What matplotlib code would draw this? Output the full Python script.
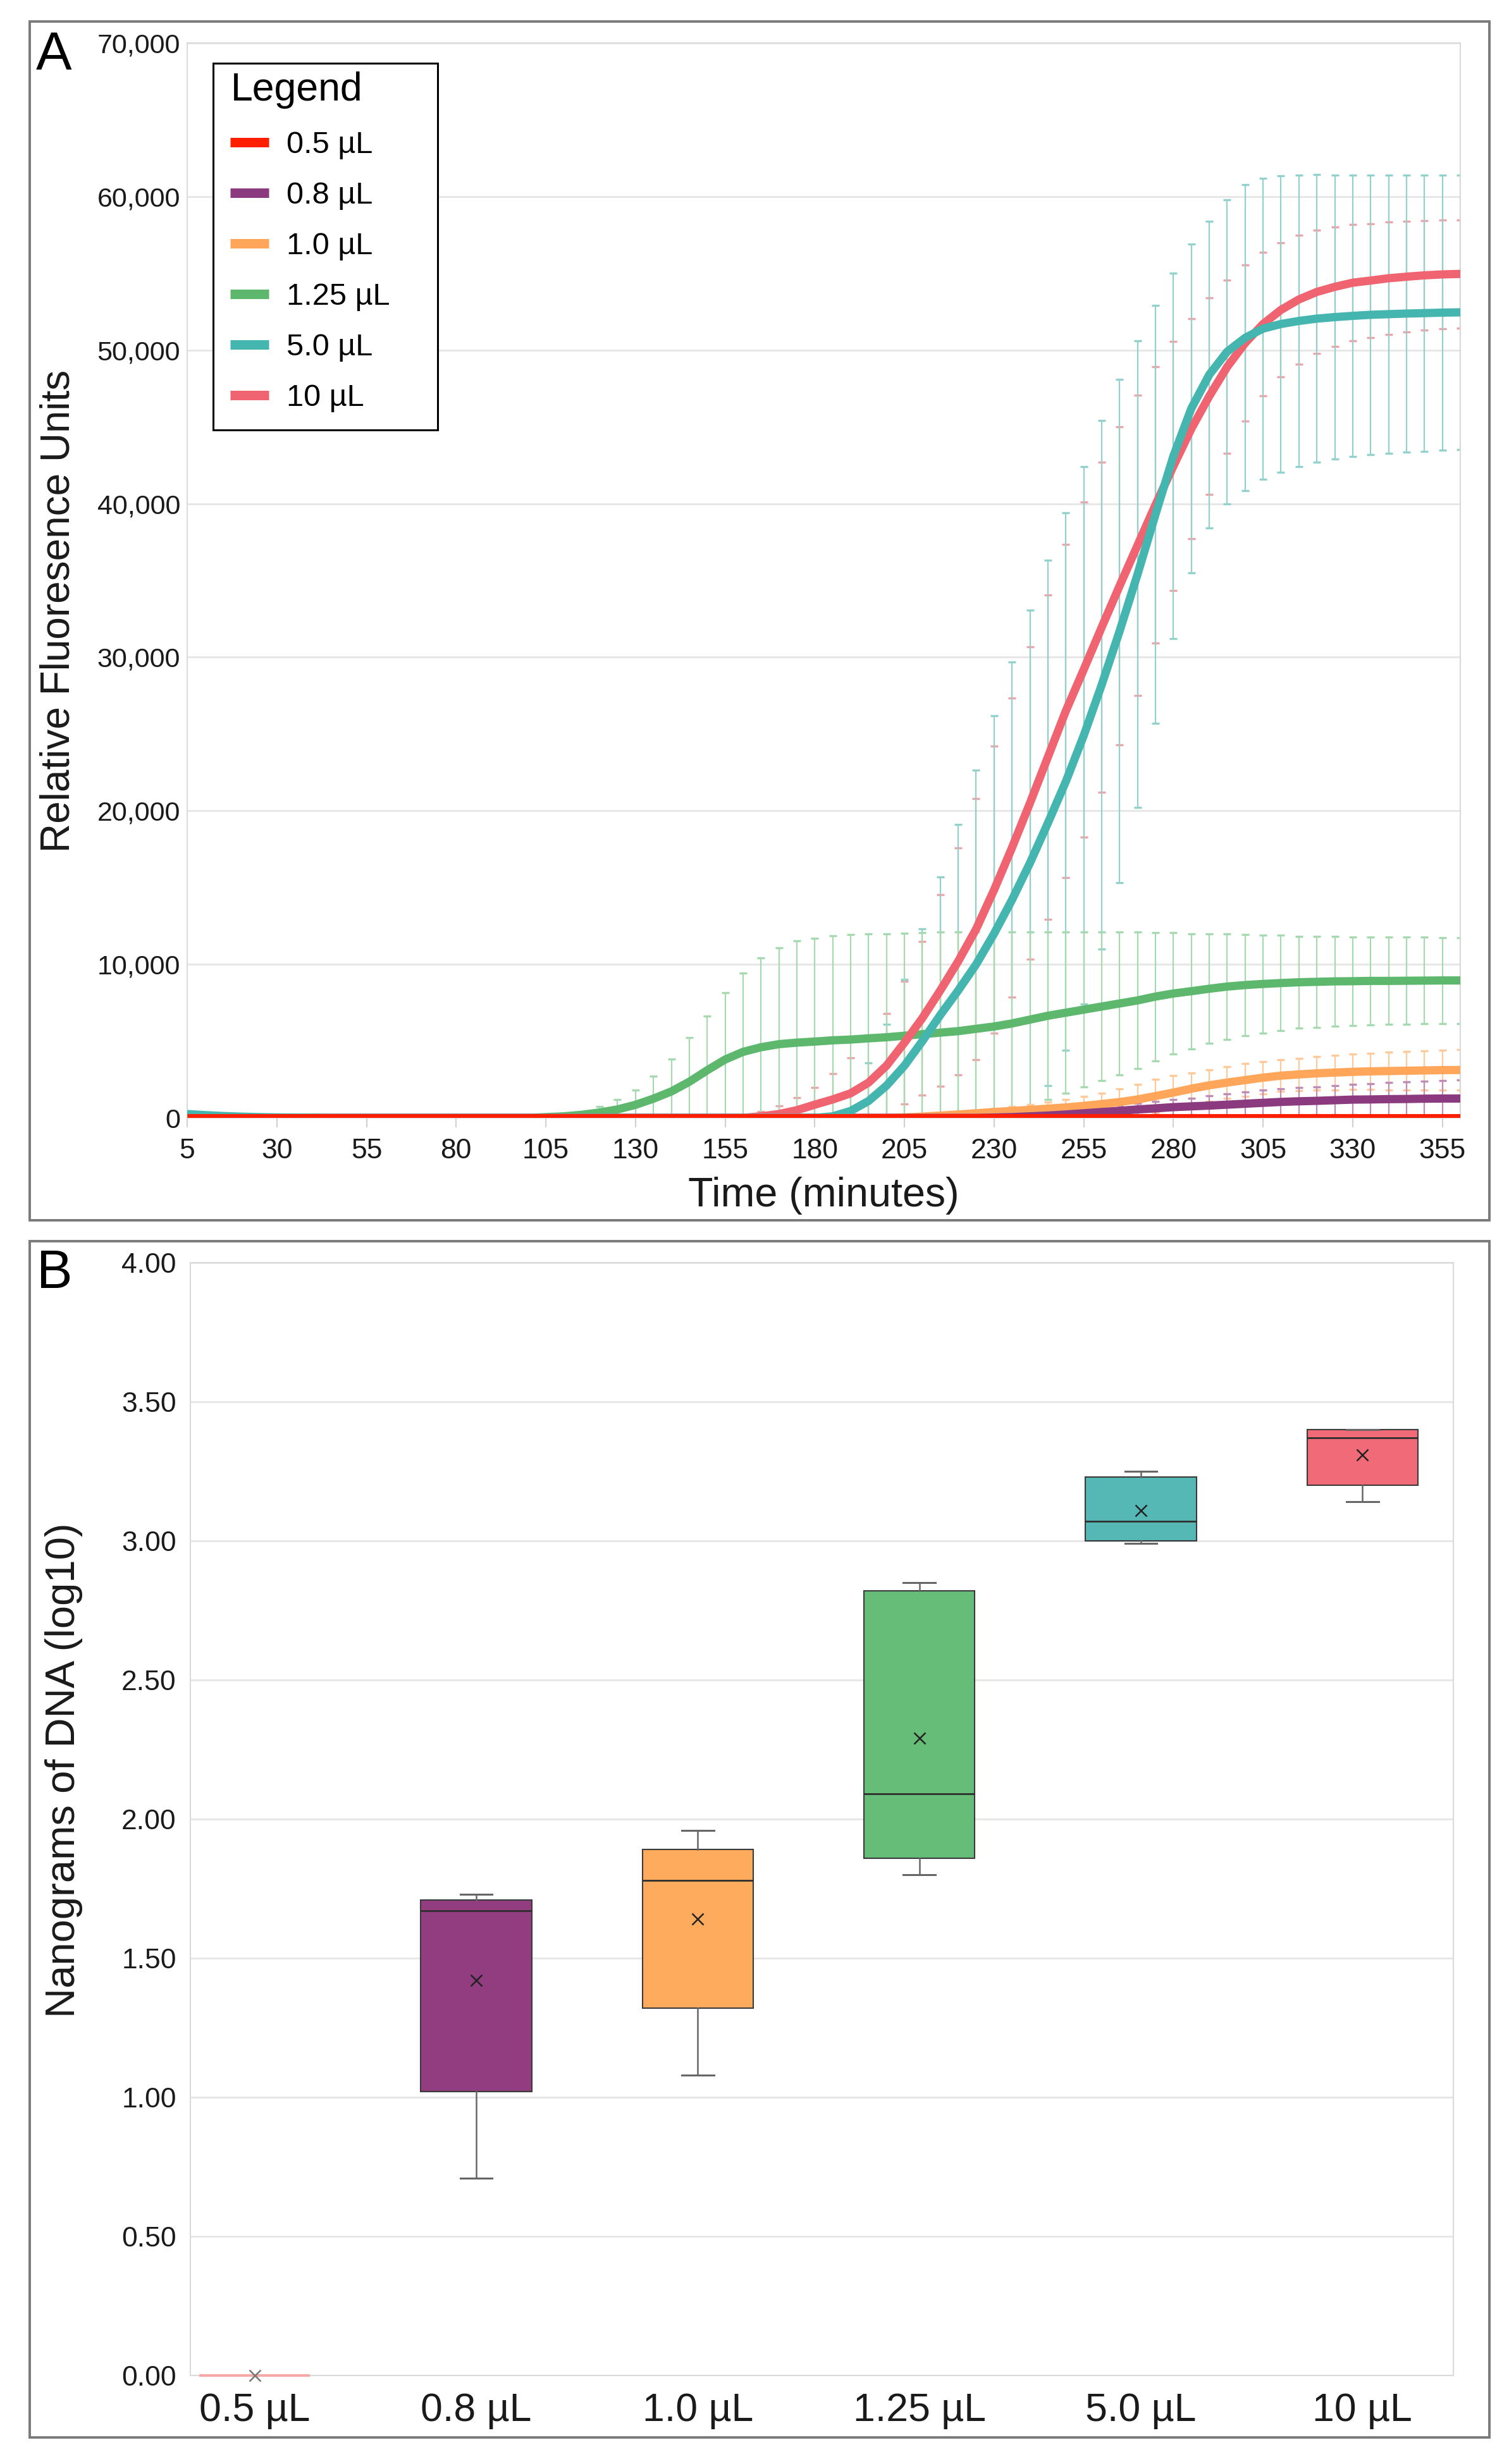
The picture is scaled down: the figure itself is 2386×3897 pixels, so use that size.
"""Fluorescence time course (A) and DNA yield box plot (B)."""
import matplotlib
matplotlib.use("Agg")
import matplotlib.pyplot as plt
from matplotlib.patches import Rectangle
import numpy as np

plt.rcParams["font.family"] = ["Liberation Sans", "DejaVu Sans"]

# ---- panel A data: mean RFU and SD, every 5 min from 5 to 360 ----
TIME = list(range(5, 361, 5))
SERIES = ["0.5 µL", "0.8 µL", "1.0 µL", "1.25 µL", "5.0 µL", "10 µL"]

MEAN_05 = [0, 0, 0, 0, 0, 0, 0, 0, 0, 0, 0, 0,
           0, 0, 0, 0, 0, 0, 0, 0, 0, 0, 0, 0,
           0, 0, 0, 0, 0, 0, 0, 0, 0, 0, 0, 0,
           0, 0, 0, 0, 0, 0, 0, 0, 0, 0, 0, 0,
           0, 0, 0, 0, 0, 0, 0, 0, 0, 0, 0, 0,
           0, 0, 0, 0, 0, 0, 0, 0, 0, 0, 0, 0]
SD_05 = MEAN_05

MEAN_08 = [0, 0, 0, 0, 0, 0, 0, 0, 0, 0, 0, 0,
           0, 0, 0, 0, 0, 0, 0, 0, 0, 0, 0, 0,
           0, 0, 0, 0, 0, 0, 0, 0, 0, 0, 0, 0,
           0, 0, 0, 0, 0, 0, 0, 0, 0, 20, 50, 100,
           150, 220, 300, 380, 460, 550, 620, 700, 750, 800, 860, 920,
           980, 1040, 1080, 1110, 1150, 1190, 1200, 1220, 1230, 1250, 1260, 1260]
SD_08 = [0, 0, 0, 0, 0, 0, 0, 0, 0, 0, 0, 0,
         0, 0, 0, 0, 0, 0, 0, 0, 0, 0, 0, 0,
         0, 0, 0, 0, 0, 0, 0, 0, 0, 0, 0, 0,
         0, 0, 0, 0, 0, 0, 0, 0, 0, 0, 0, 50,
         100, 150, 220, 300, 350, 400, 450, 490, 540, 640, 720, 780,
         820, 860, 900, 910, 940, 980, 1040, 1090, 1130, 1140, 1170, 1200]

MEAN_10 = [0, 0, 0, 0, 0, 0, 0, 0, 0, 0, 0, 0,
           0, 0, 0, 0, 0, 0, 0, 0, 0, 0, 0, 0,
           0, 0, 0, 0, 0, 0, 0, 0, 0, 0, 0, 0,
           0, 0, 0, 0, 30, 80, 150, 220, 300, 380, 450, 520,
           600, 680, 780, 900, 1030, 1200, 1420, 1650, 1900, 2120, 2300, 2460,
           2620, 2750, 2830, 2900, 2950, 3000, 3030, 3050, 3070, 3090, 3110, 3120]
SD_10 = [0, 0, 0, 0, 0, 0, 0, 0, 0, 0, 0, 0,
         0, 0, 0, 0, 0, 0, 0, 0, 0, 0, 0, 0,
         0, 0, 0, 0, 0, 0, 0, 0, 0, 0, 0, 0,
         0, 0, 0, 0, 20, 50, 90, 130, 170, 220, 280, 350,
         430, 520, 610, 720, 850, 1000, 1100, 1100, 1040, 1030, 1040, 1070,
         1050, 1030, 1050, 1100, 1120, 1140, 1180, 1240, 1250, 1270, 1290, 1310]

MEAN_125 = [0, 0, 0, 0, 0, 0, 0, 0, 0, 0, 0, 0,
            0, 0, 0, 0, 0, 0, 0, 0, 50, 100, 200, 350,
            550, 850, 1250, 1720, 2350, 3100, 3800, 4300, 4600, 4800, 4900, 4970,
            5050, 5100, 5180, 5250, 5350, 5450, 5550, 5650, 5800, 5950, 6150, 6400,
            6650, 6850, 7050, 7250, 7450, 7650, 7900, 8100, 8250, 8410, 8550, 8650,
            8720, 8780, 8830, 8860, 8890, 8900, 8920, 8920, 8930, 8940, 8950, 8950]
SD_125 = [0, 0, 0, 0, 0, 0, 0, 0, 0, 0, 0, 0,
          0, 0, 0, 0, 0, 0, 0, 0, 0, 50, 140, 390,
          630, 960, 1450, 2090, 2880, 3550, 4350, 5130, 5810, 6260, 6640, 6720,
          6800, 6830, 6790, 6750, 6680, 6600, 6540, 6440, 6290, 6140, 5940, 5690,
          5440, 5240, 5040, 4840, 4640, 4440, 4180, 3960, 3750, 3570, 3430, 3300,
          3190, 3100, 3000, 2960, 2920, 2890, 2870, 2840, 2830, 2820, 2800, 2800]

MEAN_50 = [250, 180, 120, 80, 50, 30, 20, 10, 0, 0, 0, 0,
           0, 0, 0, 0, 0, 0, 0, 0, 0, 0, 0, 0,
           0, 0, 0, 0, 0, 0, 0, 0, 0, 0, 0, 0,
           100, 450, 1100, 2100, 3400, 5000, 6700, 8300, 10000, 12000, 14200, 16600,
           19200, 21900, 24900, 28200, 31700, 35400, 39300, 43100, 46200, 48400, 49900, 50800,
           51400, 51700, 51900, 52050, 52150, 52230, 52300, 52340, 52380, 52410, 52440, 52460]
SD_50 = [0, 0, 0, 0, 0, 0, 0, 0, 0, 0, 0, 0,
         0, 0, 0, 0, 0, 0, 0, 0, 0, 0, 0, 0,
         0, 0, 0, 0, 0, 0, 0, 0, 0, 0, 0, 0,
         0, 1300, 2500, 4000, 5600, 7300, 9000, 10800, 12660, 14200, 15500, 16450,
         17100, 17500, 17500, 17200, 16400, 15200, 13600, 11900, 10700, 10000, 9900, 9960,
         9800, 9650, 9490, 9370, 9260, 9170, 9100, 9070, 9030, 9000, 8960, 8940]

MEAN_100 = [0, 0, 0, 0, 0, 0, 0, 0, 0, 0, 0, 0,
            0, 0, 0, 0, 0, 0, 0, 0, 0, 0, 0, 0,
            0, 0, 0, 0, 0, 0, 0, 0, 100, 250, 500, 860,
            1200, 1600, 2300, 3400, 4900, 6500, 8300, 10200, 12300, 14850, 17600, 20500,
            23500, 26500, 29200, 31950, 34650, 37290, 39920, 42450, 44880, 47000, 48910, 50460,
            51700, 52620, 53300, 53790, 54120, 54390, 54530, 54680, 54780, 54870, 54930, 54960]
SD_100 = [0, 0, 0, 0, 0, 0, 0, 0, 0, 0, 0, 0,
          0, 0, 0, 0, 0, 0, 0, 0, 0, 0, 0, 0,
          0, 0, 0, 0, 0, 0, 0, 0, 300, 550, 800, 1100,
          1700, 2300, 2800, 3400, 4000, 5000, 6250, 7400, 8500, 9350, 9750, 10180,
          10560, 10860, 10900, 10730, 10360, 9790, 8990, 8120, 7160, 6390, 5640, 5090,
          4670, 4380, 4200, 4020, 3890, 3780, 3710, 3650, 3590, 3570, 3550, 3510]

# ---- panel B data: log10 ng DNA box statistics ----
BOX_LO = [0.0, 0.71, 1.08, 1.80, 2.99, 3.14]
BOX_Q1 = [0.0, 1.02, 1.32, 1.86, 3.00, 3.20]
BOX_MED = [0.0, 1.67, 1.78, 2.09, 3.07, 3.37]
BOX_Q3 = [0.0, 1.71, 1.89, 2.82, 3.23, 3.40]
BOX_HI = [0.0, 1.73, 1.96, 2.85, 3.25, 3.40]
BOX_MEAN = [0.0, 1.42, 1.64, 2.29, 3.11, 3.31]

LINE_COLORS = ["#FF1E00", "#8B3A80", "#FFA65A", "#5DB86E", "#45B5B0", "#EF6470"]
ERR_COLORS = ["#FF9A8C", "#BE8CB5", "#FFC99A", "#A6D9AF", "#93D1CD", "#F3A2AA"]
BOX_COLORS = ["#FF3030", "#923D80", "#FFAB5E", "#66BD77", "#55B8B5", "#F06B77"]

means = [MEAN_05, MEAN_08, MEAN_10, MEAN_125, MEAN_50, MEAN_100]
sds = [SD_05, SD_08, SD_10, SD_125, SD_50, SD_100]

W, H = 2386, 3897
fig = plt.figure(figsize=(W / 100, H / 100), dpi=100)
fig.patch.set_facecolor("white")

# panel frames
fig.add_artist(Rectangle((47 / W, 1 - 1930 / H), 2308 / W, 1896 / H, transform=fig.transFigure,
                         fill=False, edgecolor="#7A7A7A", linewidth=2.8))
fig.add_artist(Rectangle((47 / W, 1 - 3855 / H), 2308 / W, 1892 / H, transform=fig.transFigure,
                         fill=False, edgecolor="#7A7A7A", linewidth=2.8))

# ---------------- panel A ----------------
axA = fig.add_axes([296 / W, 1 - 1768 / H, 2013 / W, 1700 / H])
t = np.array(TIME)

for idx in [5, 4, 3, 2, 1]:
    m = np.array(means[idx], dtype=float)
    s = np.array(sds[idx], dtype=float)
    keep = s > 0
    axA.errorbar(t[keep], m[keep], yerr=s[keep], fmt="none", ecolor=ERR_COLORS[idx],
                 elinewidth=1.6, capsize=4, capthick=2.4, zorder=2)

line_handles = {}
for idx in [3, 2, 1, 5, 4, 0]:
    ln, = axA.plot(t, means[idx], color=LINE_COLORS[idx], linewidth=9.4,
                   solid_capstyle="butt", zorder=4, label=SERIES[idx])
    line_handles[idx] = ln

axA.set_xlim(5, 360)
axA.set_ylim(0, 70000)
axA.set_xticks(list(range(5, 356, 25)))
axA.set_yticks(list(range(0, 70001, 10000)))
axA.set_yticklabels([f"{v:,}" for v in range(0, 70001, 10000)])
axA.tick_params(axis="y", length=0, pad=8, labelsize=31, labelcolor="#1a1a1a")
axA.tick_params(axis="x", length=11, width=1.5, color="#D0D0D0", pad=12,
                labelsize=32, labelcolor="#1a1a1a")
axA.yaxis.grid(True, color="#E6E6E6", linewidth=2)
axA.set_axisbelow(True)
for sp in axA.spines.values():
    sp.set_color("#DADADA")
    sp.set_linewidth(1.5)

# legend with its own frame
axA.add_patch(Rectangle((0.0204, 0.640), 0.1764, 0.3412, transform=axA.transAxes,
                        facecolor="white", edgecolor="black", linewidth=2.2, zorder=6))
leg = axA.legend([line_handles[i] for i in range(6)], SERIES, loc="upper left",
                 bbox_to_anchor=(0.0340, 0.9735), frameon=False, borderpad=0,
                 borderaxespad=0, title="Legend", alignment="left", fontsize=35,
                 title_fontsize=45, handlelength=1.25, handletextpad=0.57,
                 labelspacing=0.72)
leg.set_zorder(7)
for hl in leg.get_lines():
    hl.set_linewidth(10.8)

fig.text(93 / W, 1 - 966 / H, "Relative Fluoresence Units", rotation=90,
         ha="center", va="center", fontsize=46, color="#1a1a1a")
fig.text(1302 / W, 1 - 1908 / H, "Time (minutes)", ha="center", va="baseline",
         fontsize=46.5, color="#1a1a1a")
fig.text(57 / W, 1 - 110 / H, "A", ha="left", va="baseline", fontsize=61, color="black")

# ---------------- panel B ----------------
axB = fig.add_axes([301 / W, 1 - 3757 / H, 1997 / W, 1760 / H])
stats = []
for i in range(6):
    stats.append(dict(label=SERIES[i], whislo=BOX_LO[i], q1=BOX_Q1[i], med=BOX_MED[i],
                      q3=BOX_Q3[i], whishi=BOX_HI[i], mean=BOX_MEAN[i]))

bp = axB.bxp(stats, positions=list(range(6)), widths=0.5, patch_artist=True,
             showmeans=True, showfliers=False, capwidths=0.145,
             boxprops=dict(edgecolor="#3A3A3A", linewidth=1.5),
             medianprops=dict(color="#2E2E2E", linewidth=2.0),
             whiskerprops=dict(color="#666666", linewidth=1.8),
             capprops=dict(color="#666666", linewidth=2.2),
             meanprops=dict(marker="x", markeredgecolor="#222222", markersize=13,
                            markeredgewidth=1.8))
for patch, c in zip(bp["boxes"], BOX_COLORS):
    patch.set_facecolor(c)
bp["boxes"][0].set_edgecolor("#F7A8A8")
bp["boxes"][0].set_linewidth(3)
bp["boxes"][0].set_clip_on(False)
bp["boxes"][0].set_zorder(4)
bp["medians"][0].set_visible(False)
for cap in bp["caps"][:2]:
    cap.set_visible(False)
for mk in bp["means"]:
    mk.set_clip_on(False)
    mk.set_zorder(5)
bp["means"][0].set_markeredgecolor("#777777")

axB.set_xlim(-0.29, 5.41)
axB.set_ylim(0, 4)
yt = [0.0, 0.5, 1.0, 1.5, 2.0, 2.5, 3.0, 3.5, 4.0]
axB.set_yticks(yt)
axB.set_yticklabels([f"{v:.2f}" for v in yt])
axB.set_xticks(list(range(6)))
axB.set_xticklabels(SERIES)
axB.tick_params(axis="y", length=0, pad=16, labelsize=32, labelcolor="#1a1a1a")
axB.tick_params(axis="x", length=0, pad=19, labelsize=45, labelcolor="#1a1a1a")
axB.yaxis.grid(True, color="#E6E6E6", linewidth=2)
axB.set_axisbelow(True)
for sp in axB.spines.values():
    sp.set_color("#DADADA")
    sp.set_linewidth(1.5)

fig.text(101 / W, 1 - 2800 / H, "Nanograms of DNA (log10)", rotation=90,
         ha="center", va="center", fontsize=47, color="#1a1a1a")
fig.text(58 / W, 1 - 2037 / H, "B", ha="left", va="baseline", fontsize=61, color="black")

fig.savefig("out.png", dpi=100, facecolor="white")
